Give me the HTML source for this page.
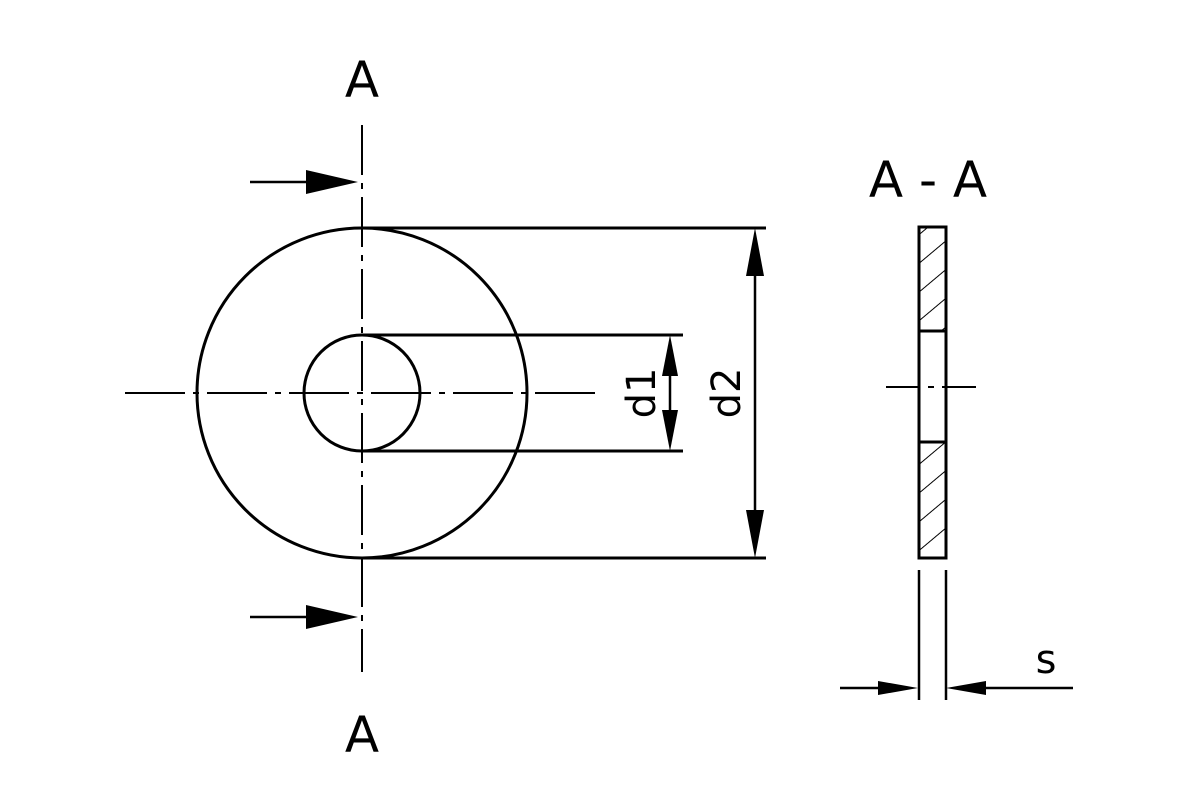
<!DOCTYPE html>
<html><head><style>body{margin:0;background:#fff}</style></head><body>
<svg width="1200" height="800" viewBox="0 0 1200 800" xmlns="http://www.w3.org/2000/svg" style="display:block">
<rect width="1200" height="800" fill="#fff"/>
<defs>
<pattern id="h" patternUnits="userSpaceOnUse" width="22" height="22" patternTransform="rotate(50)">
<line x1="0" y1="0" x2="0" y2="22" stroke="#000" stroke-width="2"/>
</pattern>
</defs>
<g stroke="#000" fill="none" stroke-width="3">
<circle cx="362" cy="393" r="165"/>
<circle cx="362" cy="393" r="58"/>
<line x1="362" y1="228" x2="766" y2="228"/>
<line x1="362" y1="558" x2="766" y2="558"/>
<line x1="362" y1="335" x2="683" y2="335"/>
<line x1="362" y1="451" x2="683" y2="451"/>
<line x1="755" y1="240" x2="755" y2="546" stroke-width="2.5"/>
<line x1="670" y1="347" x2="670" y2="439" stroke-width="2.5"/>
</g>
<g stroke="#000" stroke-width="2">
<line x1="362" y1="125" x2="362" y2="672" stroke-dasharray="50,8,6,8"/>
<line x1="125" y1="393" x2="600" y2="393" stroke-dasharray="60,8,6,8"/>
<line x1="886" y1="387" x2="980" y2="387" stroke-dasharray="34,8,6,8"/>
<line x1="250" y1="182" x2="320" y2="182" stroke-width="2.5"/>
<line x1="250" y1="617" x2="320" y2="617" stroke-width="2.5"/>
<line x1="840" y1="688" x2="890" y2="688" stroke-width="2.5"/>
<line x1="975" y1="688" x2="1073" y2="688" stroke-width="2.5"/>
</g>
<g fill="#000">
<polygon points="358,182 306,170 306,194"/>
<polygon points="358,617 306,605 306,629"/>
<polygon points="755,228 746,276 764,276"/>
<polygon points="755,558 746,510 764,510"/>
<polygon points="670,335 662,376 678,376"/>
<polygon points="670,451 662,410 678,410"/>
<polygon points="918,688 878,681 878,695"/>
<polygon points="946,688 986,681 986,695"/>
</g>
<rect x="919" y="228" width="27" height="103" fill="url(#h)"/>
<rect x="919" y="442" width="27" height="116" fill="url(#h)"/>
<g stroke="#000" fill="none" stroke-width="3">
<rect x="919" y="227" width="27" height="331"/>
<line x1="919" y1="331" x2="946" y2="331"/>
<line x1="919" y1="442" x2="946" y2="442"/>
<line x1="919" y1="570" x2="919" y2="700" stroke-width="2.5"/>
<line x1="946" y1="570" x2="946" y2="700" stroke-width="2.5"/>
</g>
<g font-family="'DejaVu Sans','Liberation Sans',sans-serif" font-size="50" fill="#000" text-anchor="middle">
<text x="362" y="97">A</text>
<text x="362" y="752">A</text>
<text x="928" y="197">A - A</text>
<text x="1046" y="673" font-size="40">s</text>
<text transform="translate(655,393) rotate(-90)" font-size="40">d1</text>
<text transform="translate(740,393) rotate(-90)" font-size="40">d2</text>
</g>
</svg>
</body></html>
